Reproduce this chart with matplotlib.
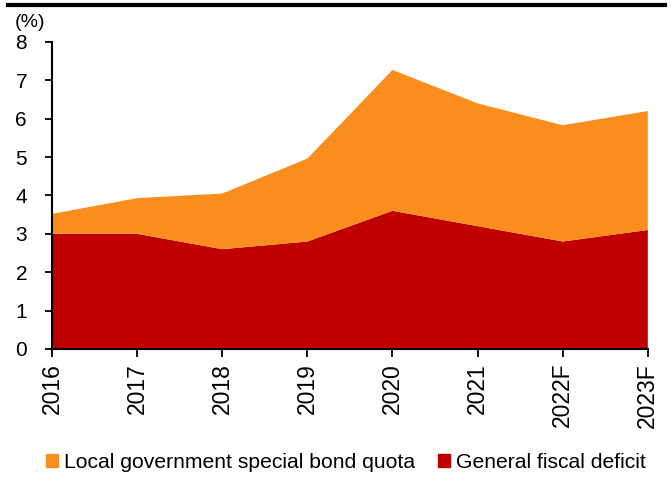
import matplotlib
matplotlib.use('Agg')
import matplotlib.pyplot as plt
from matplotlib.lines import Line2D
from matplotlib.patches import Patch

# Data (% of GDP)
years = ['2016', '2017', '2018', '2019', '2020', '2021', '2022F', '2023F']
fiscal_deficit = [3.0, 3.0, 2.6, 2.8, 3.6, 3.2, 2.8, 3.1]
special_bond = [0.52, 0.93, 1.45, 2.16, 3.67, 3.2, 3.03, 3.1]

red = '#C00000'
orange = '#F98E1F'

plt.rcParams['font.family'] = ['Liberation Sans', 'DejaVu Sans']

fig = plt.figure(figsize=(6.72, 4.82), dpi=100)
ax = fig.add_axes([0.0774, 0.276, 0.8866, 0.637])

x = list(range(len(years)))
ax.stackplot(x, fiscal_deficit, special_bond, colors=[red, orange], linewidth=0)

ax.set_xlim(0, len(years) - 1)
ax.set_ylim(0, 8)
ax.set_yticks(range(0, 9))
ax.set_xticks(x)
ax.set_xticklabels(years, rotation=90, fontsize=16.5)
ax.tick_params(axis='y', labelsize=15, length=5, width=1.3, direction='out', pad=13)
ax.tick_params(axis='x', length=6, width=1.3, direction='out', pad=4)

for side in ['top', 'right']:
    ax.spines[side].set_visible(False)
for side in ['left', 'bottom']:
    ax.spines[side].set_linewidth(1.5)

# unit label
fig.text(0.022, 0.935, '(%)', fontsize=14, ha='left', va='bottom')

# thick rule across the top
fig.add_artist(Line2D([0.012, 0.99], [0.99, 0.99], color='black', linewidth=3,
                      transform=fig.transFigure))

handles = [Patch(color=orange, label='Local government special bond quota'),
           Patch(color=red, label='General fiscal deficit')]
fig.legend(handles=handles, loc='center', bbox_to_anchor=(0.515, 0.04), ncol=2,
           frameon=False, fontsize=15.2, handlelength=0.55, handleheight=0.55,
           handletextpad=0.3, columnspacing=1.1)

fig.savefig('out.png', dpi=100)
